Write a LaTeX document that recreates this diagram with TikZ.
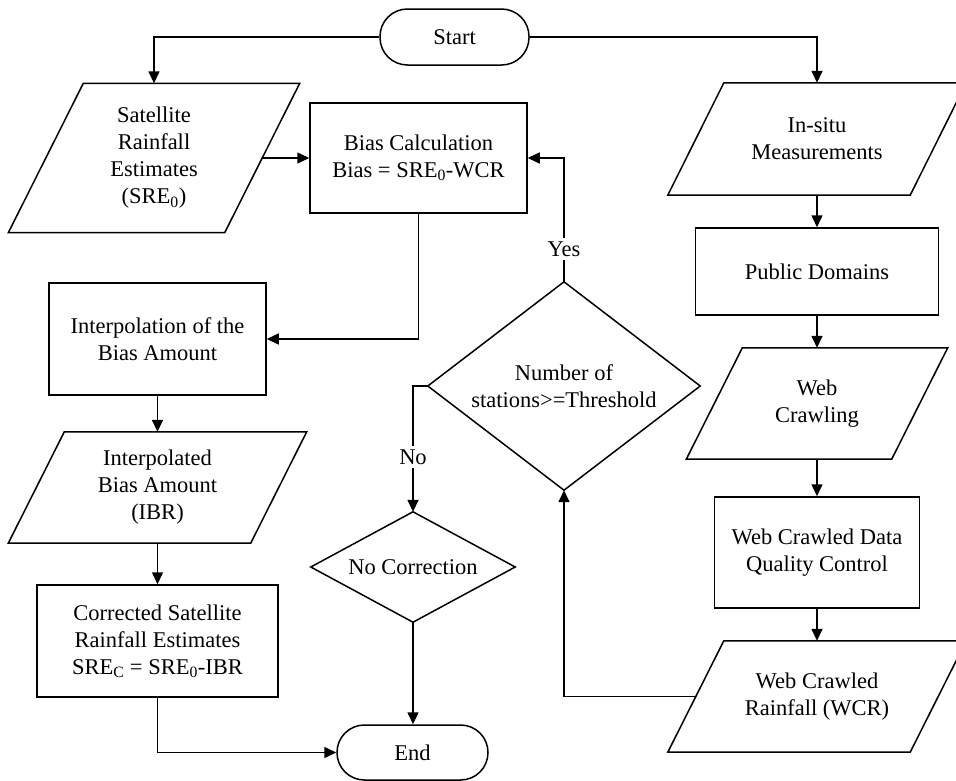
\documentclass[tikz,border=0pt]{standalone}
\usepackage{fontspec}
\setmainfont{Liberation Serif}
\usetikzlibrary{arrows.meta}

% outline of a data (input/output) node: slanted sides, #2 = half of the slant
\newcommand{\datashape}[2]{%
  \draw[outline] ([xshift=#2pt]#1.north west) -- ([xshift=#2pt]#1.north east)
    -- ([xshift=-#2pt]#1.south east) -- ([xshift=-#2pt]#1.south west) -- cycle;}
% outline of a decision node
\newcommand{\decisionshape}[1]{%
  \draw[outline] (#1.north) -- (#1.east) -- (#1.south) -- (#1.west) -- cycle;}

\begin{document}
\begin{tikzpicture}[x=1pt,y=-1pt,
  every node/.style={font=\fontsize{22.5}{27}\selectfont, align=center, inner sep=0pt},
  outline/.style={line width=1.5pt, line join=miter},
  proc/.style={draw, line width=1.5pt},
  term/.style={draw, line width=1.5pt, rounded corners=27.4pt},
  flow/.style={line width=1.5pt, -{Triangle[length=12pt,width=11pt]}},
  answer/.style={fill=white, inner sep=4pt}]

\useasboundingbox (0,0) rectangle (956,780);
\clip (0,0) rectangle (956,780);
\fill[white] (0,0) rectangle (956,780);

% terminators
\node[term, minimum width=149pt, minimum height=56pt] (start) at (454.5,37) {Start};
\node[term, minimum width=151pt, minimum height=55pt] (end) at (412.5,752.5) {End};

% left column
\node[minimum width=216pt, minimum height=149pt] (sat) at (154,158)
  {Satellite\\Rainfall\\Estimates\\(SRE\textsubscript{0})};
\datashape{sat}{37.5}
\node[proc, minimum width=217pt, minimum height=110pt] (bias) at (418.5,158)
  {Bias Calculation\\Bias = SRE\textsubscript{0}-WCR};
\node[proc, minimum width=217pt, minimum height=112pt] (interp) at (157.5,339)
  {Interpolation of the\\Bias Amount};
\node[minimum width=242pt, minimum height=111pt] (ibr) at (157.5,487.5)
  {Interpolated\\Bias Amount\\(IBR)};
\datashape{ibr}{28}
\node[proc, minimum width=241pt, minimum height=112pt] (corr) at (157.5,641)
  {Corrected Satellite\\Rainfall Estimates\\SRE\textsubscript{C} = SRE\textsubscript{0}-IBR};

% decisions
\node[minimum width=272pt, minimum height=208pt] (dec) at (564,386)
  {Number of\\stations>=Threshold};
\decisionshape{dec}
\node[minimum width=204pt, minimum height=110pt] (nocorr) at (413,567) {No Correction};
\decisionshape{nocorr}

% right column
\node[minimum width=242pt, minimum height=112pt] (insitu) at (817,139)
  {In-situ\\Measurements};
\datashape{insitu}{28}
\node[proc, minimum width=243pt, minimum height=87pt] (public) at (817,271.5)
  {Public Domains};
\node[minimum width=205pt, minimum height=111pt] (crawl) at (817,403.5)
  {Web\\Crawling};
\datashape{crawl}{28}
\node[proc, minimum width=205pt, minimum height=111pt] (qc) at (817,552.5)
  {Web Crawled Data\\Quality Control};
\node[minimum width=242pt, minimum height=111pt] (wcr) at (817,696.5)
  {Web Crawled\\Rainfall (WCR)};
\datashape{wcr}{28}

% connectors
\draw[flow] (start.west) -| (sat.north);
\draw[flow] (start.east) -| (insitu.north);
\draw[flow] (sat.east) -- (bias.west);
\draw[flow] (bias.south) |- (interp.east);
\draw[flow] (interp.south) -- (ibr.north);
\draw[flow] (ibr.south) -- (corr.north);
\draw[flow] (corr.south) |- (end.west);
\draw[flow] (nocorr.south) -- (nocorr.south |- end.north);
\draw[flow] (insitu.south) -- (public.north);
\draw[flow] (public.south) -- (crawl.north);
\draw[flow] (crawl.south) -- (qc.north);
\draw[flow] (qc.south) -- (wcr.north);
\draw[flow] (wcr.west) -| (dec.south);
\draw[flow] (dec.north) |- (bias.east);
\draw[flow] (dec.west) -| (nocorr.north);

% branch labels
\node[answer] (yes) at (564,249) {Yes};
\node[answer] (no) at (413,457) {No};

\end{tikzpicture}
\end{document}
